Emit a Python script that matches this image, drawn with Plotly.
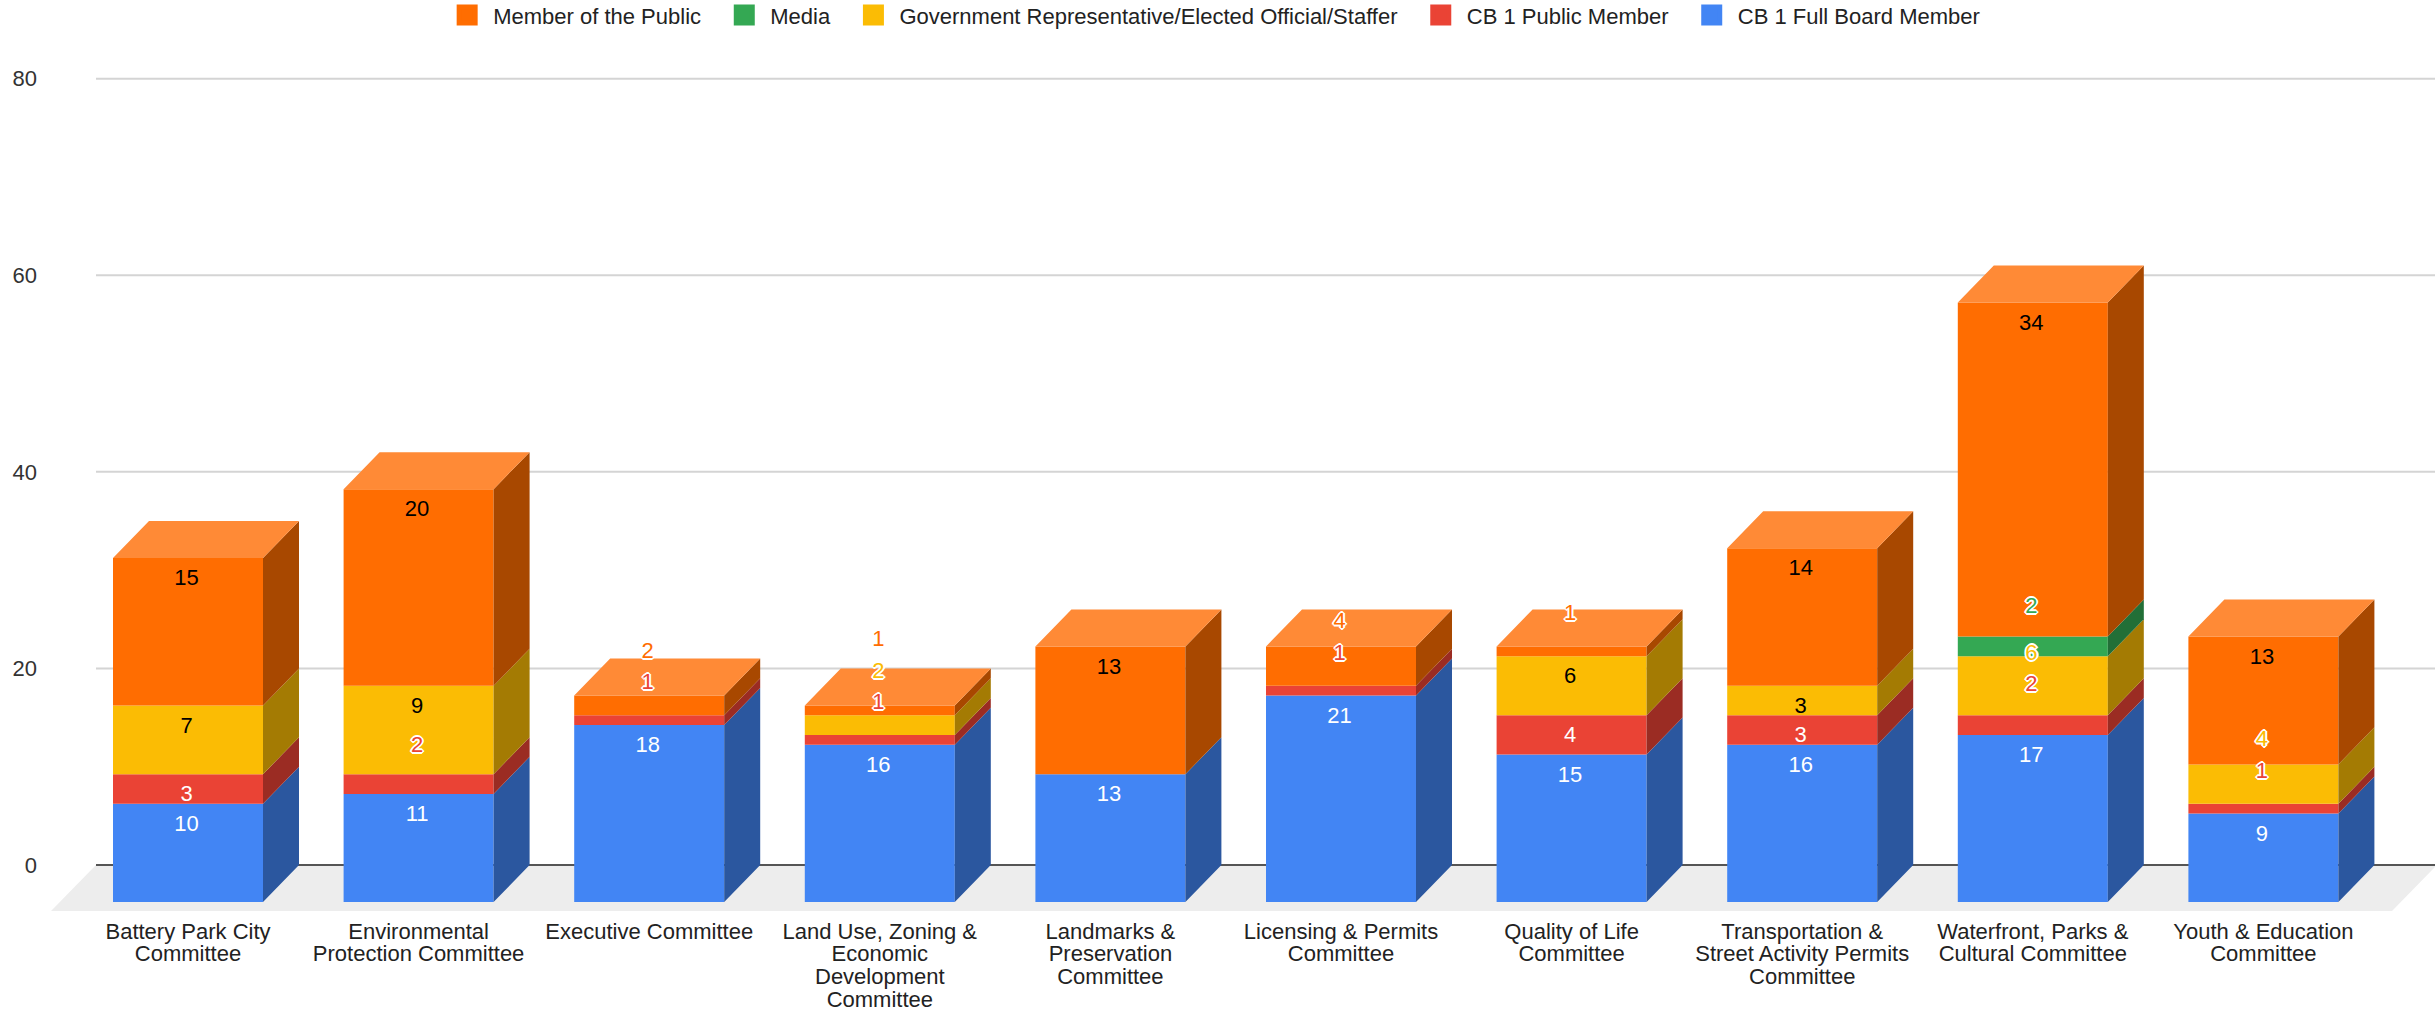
import plotly.graph_objects as go

committees = [
    "Battery Park City<br>Committee",
    "Environmental<br>Protection Committee",
    "Executive Committee",
    "Land Use, Zoning &<br>Economic<br>Development<br>Committee",
    "Landmarks &<br>Preservation<br>Committee",
    "Licensing & Permits<br>Committee",
    "Quality of Life<br>Committee",
    "Transportation &<br>Street Activity Permits<br>Committee",
    "Waterfront, Parks &<br>Cultural Committee",
    "Youth & Education<br>Committee",
]
full_board = [10, 11, 18, 16, 13, 21, 15, 16, 17, 9]
public_member = [3, 2, 1, 1, 0, 1, 4, 3, 2, 1]
government = [7, 9, 0, 2, 0, 0, 6, 3, 6, 4]
media = [0, 0, 0, 0, 0, 0, 0, 0, 2, 0]
member_public = [15, 20, 2, 1, 13, 4, 1, 14, 34, 13]
y_ticks = [0, 20, 40, 60, 80]

# bottom-to-top stacking order
series = [
    ("CB 1 Full Board Member", full_board, "#4285F4", "#2B579F", "#ffffff"),
    ("CB 1 Public Member", public_member, "#EA4335", "#9B2C23", "#ffffff"),
    ("Government Representative/Elected Official/Staffer", government, "#FBBC04", "#A47B03", "#000000"),
    ("Media", media, "#34A853", "#226F37", "#000000"),
    ("Member of the Public", member_public, "#FF6D01", "#A84800", "#000000"),
]
TOP_FACE = "#FF8A36"

W, H = 2435, 1011
PX_X, PX_Y = 230.6, 9.825      # pixels per category / per value
BAR_W = 150 / PX_X
DX = 36 / PX_X
DY = 37 / PX_Y
FLOOR = 46 / PX_Y
FLOOR_SLANT = 45 / PX_X
FONT = "Liberation Sans, Arial, sans-serif"
TICK_PX, LINE_PX = 22, 17.5    # glyph size; the smaller one sets line spacing for wrapped labels
LABEL_DROP, LABEL_MIN_GAP, FIRST_LIFT, NEXT_LIFT = 2.2, 2.5, 6.4, 3.2
label_nudges = {(1, "CB 1 Public Member"): 0.6, (8, "CB 1 Public Member"): 0.8, (8, "Media"): 1.6}
HALO = ",".join(f"{a}px {b}px 0 #fff" for a, b in
                [(-2, 0), (2, 0), (0, -2), (0, 2), (-1, -1), (1, 1), (-1, 1), (1, -1)])

x_left, x_right = -137 / PX_X, (2435 - 188) / PX_X
y_low, y_high = -FLOOR, 82
xs = list(range(len(committees)))
fig = go.Figure()

# Legend keys, in the reference's left-to-right order
for name, _, color, _, _ in reversed(series):
    fig.add_trace(go.Scatter(x=[None], y=[None], mode="markers", name=name + "\u00a0\u00a0",
                             marker=dict(symbol="square", size=16, color=color,
                                         line=dict(color=color, width=5))))

bases = [0] * len(xs)
labels = []
prev_y = [None] * len(xs)
lifted = [False] * len(xs)
for name, vals, color, side, text_color in series:
    shown = [i for i in xs if vals[i] > 0]
    fig.add_trace(go.Bar(x=shown, y=[vals[i] for i in shown],
                         base=[bases[i] - DY for i in shown], width=BAR_W,
                         marker=dict(color=color, line=dict(width=0)),
                         name=name, showlegend=False, hoverinfo="skip"))
    sx, sy = [], []
    for i in shown:
        b, t = bases[i], bases[i] + vals[i]
        r = i + BAR_W / 2
        sx += [r, r + DX, r + DX, r, r, None]
        sy += [b - DY, b, t, t - DY, b - DY, None]
        want = t - DY - LABEL_DROP
        moved = prev_y[i] is not None and want - prev_y[i] < LABEL_MIN_GAP
        if moved:
            want = prev_y[i] + (NEXT_LIFT if lifted[i] else FIRST_LIFT)
            lifted[i] = True
        want += label_nudges.get((i, name), 0)
        prev_y[i] = want
        labels.append((i, want, str(vals[i]), color if moved else text_color, HALO if moved else "none"))
    fig.add_trace(go.Scatter(x=sx, y=sy, mode="lines", fill="toself", fillcolor=side,
                             line=dict(width=0), showlegend=False, hoverinfo="skip"))
    bases = [bases[i] + vals[i] for i in xs]

tx, ty = [], []
for i in xs:
    l, r, t = i - BAR_W / 2, i + BAR_W / 2, bases[i]
    tx += [l, l + DX, r + DX, r, l, None]
    ty += [t - DY, t, t, t - DY, t - DY, None]
fig.add_trace(go.Scatter(x=tx, y=ty, mode="lines", fill="toself", fillcolor=TOP_FACE,
                         line=dict(width=0), showlegend=False, hoverinfo="skip"))

for lx, ly, lt, lc, lh in labels:
    fig.add_trace(go.Scatter(x=[lx - 1.5 / PX_X], y=[ly], mode="text", text=[lt],
                             textposition="middle center", showlegend=False, hoverinfo="skip",
                             cliponaxis=False,
                             textfont=dict(family=FONT, size=TICK_PX, color=lc, shadow=lh)))

grid_left = x_left + FLOOR_SLANT
shapes = [dict(type="path", layer="below", xref="x", yref="y", line=dict(width=0), fillcolor="#EDEDED",
               path=f"M {grid_left} 0 L {x_right + 2 / PX_X} 0 L {x_right + 2 / PX_X - FLOOR_SLANT} {y_low} L {x_left} {y_low} Z")]
for v in y_ticks:
    shapes.append(dict(type="line", layer="below", xref="x", yref="y", x0=grid_left, x1=x_right, y0=v, y1=v,
                       line=dict(color="#555555" if v == 0 else "#D4D4D4", width=2)))


def tight_lines(label):
    """Big glyphs on the tighter line spacing of the reference's wrapped labels."""
    return "<br>".join(f'<span style="font-size:{TICK_PX}px">{part}</span>' for part in label.split("<br>"))


fig.update_layout(
    width=W, height=H, paper_bgcolor="white", plot_bgcolor="rgba(0,0,0,0)",
    barmode="overlay", shapes=shapes,
    margin=dict(l=51, r=0, t=59.35, b=100, pad=0, autoexpand=False),
    font=dict(family=FONT, size=TICK_PX, color="#222222"),
    xaxis=dict(range=[x_left, x_right], tickmode="array", tickvals=xs,
               ticktext=[tight_lines(c) for c in committees],
               showgrid=False, zeroline=False, showline=False, ticks="", tickangle=0,
               ticklabelstandoff=9, tickfont=dict(family=FONT, size=LINE_PX, color="#222222")),
    yaxis=dict(range=[y_low, y_high], tickmode="array", tickvals=y_ticks,
               showgrid=False, zeroline=False, showline=False, ticks="",
               ticklabelstandoff=13, tickfont=dict(family=FONT, size=TICK_PX, color="#333333")),
    legend=dict(orientation="h", xref="paper", yref="paper", x=0.49, xanchor="center",
                y=(H - 15.5 - 100) / (H - 59.35 - 100), yanchor="middle",
                font=dict(family=FONT, size=TICK_PX, color="#222222"), itemwidth=42,
                bgcolor="rgba(0,0,0,0)", traceorder="normal"),
)
fig.write_html("out.html", config={"displayModeBar": False},
               post_script="document.body.style.margin='0';")
